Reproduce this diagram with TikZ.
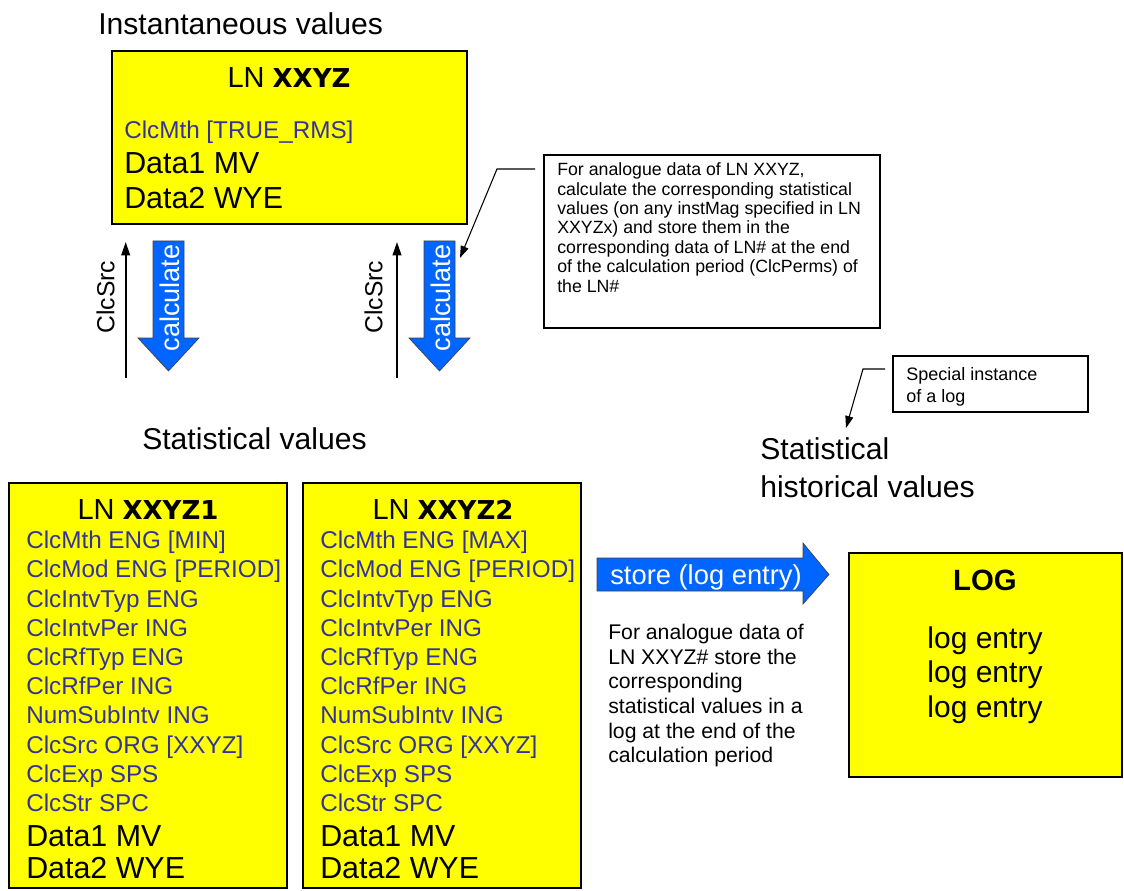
\documentclass[tikz,border=0pt]{standalone}
\usepackage{fontspec}
\setmainfont{Liberation Sans}
\newfontfamily\dvfont{DejaVu Sans}
\usetikzlibrary{arrows.meta,fit}
\definecolor{boxyellow}{RGB}{255,255,0}
\definecolor{attrblue}{RGB}{51,51,153}
\definecolor{arrowblue}{RGB}{0,102,255}
\tikzset{
  ybox/.style={draw=black, line width=1.8pt, fill=boxyellow, inner sep=0pt},
  notebox/.style={draw=black, line width=0.8pt, fill=white, inner sep=0pt},
  blockarrow/.style={fill=arrowblue, draw=black!75, line width=0.5pt},
  attr/.style={anchor=west, inner sep=0pt, text height=13pt, text depth=0pt, text=attrblue, font=\fontsize{18.2}{21}\selectfont},
  dat/.style={anchor=west, inner sep=0pt, text height=16.3pt, text depth=0pt, font=\fontsize{22.8}{26}\selectfont},
  heading/.style={anchor=west, inner sep=0pt, text height=16.2pt, text depth=0pt, font=\fontsize{22.6}{26}\selectfont},
  lntitle/.style={inner sep=0pt, text height=15.3pt, text depth=0pt, font=\fontsize{21.75}{26}\selectfont},
  rottext/.style={rotate=90, inner sep=0pt, text height=14pt, text depth=0pt},
  note/.style={anchor=north west, inner sep=0pt, align=left},
  srcarrow/.style={line width=1.3pt, -{Triangle[length=10pt,width=6.5pt]}},
  callout/.style={line width=0.8pt, -{Triangle[length=9pt,width=6pt]}},
}
\begin{document}
\begin{tikzpicture}[x=0.75pt,y=-0.75pt]
\useasboundingbox (0,0) rectangle (1124,891);

% ---------- headings ----------
\node[heading] (hInst) at (98,24) {Instantaneous values};
\node[heading] (hStat) at (142,439) {Statistical values};
\node[heading] (hHist1) at (760,449) {Statistical};
\node[heading] (hHist2) at (760,487) {historical values};

% ---------- instantaneous box ----------
\node[ybox, fit={(112,51) (467,224)}] (inst) {};
\node[lntitle] (instT) at (289,77) {LN {\dvfont\bfseries\fontsize{19.5}{24}\selectfont XXYZ}};
\node[attr] (instA) at (124,129.5) {ClcMth [TRUE\_RMS]};
\node[dat] (instD1) at (124,162.5) {Data1 MV};
\node[dat] (instD2) at (124,198) {Data2 WYE};

% ---------- calculate arrows ----------
\foreach \n/\xl/\xr/\hl/\hr/\tx in {1/153/184/138/199/168.5, 2/424/455/409/470/439.5}{
  \draw[blockarrow] (\xl,241) -- (\xr,241) -- (\xr,338) -- (\hr,338) -- (\tx,371) -- (\hl,338) -- (\xl,338) -- cycle;
}
\node[rottext, text=white, font=\fontsize{20.3}{24}\selectfont] (calc1) at (170.5,298) {calculate};
\node[rottext, text=white, font=\fontsize{20.3}{24}\selectfont] (calc2) at (441.5,298) {calculate};

% ---------- ClcSrc arrows ----------
\coordinate (s1a) at (125.7,378);
\coordinate (s1b) at (125.7,242);
\coordinate (s2a) at (397,378);
\coordinate (s2b) at (397,242);
\draw[srcarrow] (s1a) -- (s1b);
\draw[srcarrow] (s2a) -- (s2b);
\node[rottext, font=\fontsize{18.5}{22}\selectfont] (src1) at (105,297) {ClcSrc};
\node[rottext, font=\fontsize{18.5}{22}\selectfont] (src2) at (373,297) {ClcSrc};

% ---------- callout 1 ----------
\node[notebox, fit={(544,155) (880,328)}] (note1) {};
\node[note, font=\fontsize{13.3}{14.55}\selectfont] (note1t) at (557,162.5) {For analogue data of LN XXYZ,\\calculate the corresponding statistical\\values (on any instMag specified in LN\\XXYZx) and store them in the\\corresponding data of LN\# at the end\\of the calculation period (ClcPerms) of\\the LN\#};
\coordinate (c1a) at (535,169);
\coordinate (c1b) at (497,169);
\coordinate (c1tip) at (460,258);
\draw[callout] (c1a) -- (c1b) -- (c1tip);

% ---------- callout 2 ----------
\node[notebox, fit={(893,356) (1088,412)}] (note2) {};
\node[note, font=\fontsize{13.5}{16.5}\selectfont] (note2t) at (906,367.3) {Special instance\\of a log};
\coordinate (c2a) at (885,369);
\coordinate (c2b) at (863,369);
\coordinate (c2tip) at (846,428);
\draw[callout] (c2a) -- (c2b) -- (c2tip);

% ---------- statistical boxes ----------
\node[ybox, fit={(9,483) (287,888)}] (stat1) {};
\node[ybox, fit={(303,483) (581,888)}] (stat2) {};
\node[lntitle] (stat1T) at (148,509) {LN {\dvfont\bfseries\fontsize{19.5}{24}\selectfont XXYZ1}};
\node[lntitle] (stat2T) at (443,509) {LN {\dvfont\bfseries\fontsize{19.5}{24}\selectfont XXYZ2}};
\foreach \bx/\mth in {26/MIN, 320/MAX}{
  \node[attr] at (\bx,540) {ClcMth ENG [\mth]};
  \node[attr] at (\bx,569.2) {ClcMod ENG [PERIOD]};
  \node[attr] at (\bx,598.4) {ClcIntvTyp ENG};
  \node[attr] at (\bx,627.6) {ClcIntvPer ING};
  \node[attr] at (\bx,656.8) {ClcRfTyp ENG};
  \node[attr] at (\bx,686) {ClcRfPer ING};
  \node[attr] at (\bx,715.2) {NumSubIntv ING};
  \node[attr] at (\bx,744.4) {ClcSrc ORG [XXYZ]};
  \node[attr] at (\bx,773.6) {ClcExp SPS};
  \node[attr] at (\bx,802.8) {ClcStr SPC};
  \node[dat] at (\bx,836) {Data1 MV};
  \node[dat] at (\bx,867.5) {Data2 WYE};
}

% ---------- store arrow ----------
\draw[blockarrow] (597,558) -- (803,558) -- (803,543) -- (829,574.5) -- (803,604) -- (803,591) -- (597,591) -- cycle;
\node[inner sep=0pt, text=white, text height=14.7pt, text depth=0pt, font=\fontsize{20.5}{24}\selectfont] (storeT) at (706,575) {store (log entry)};
\node[note, font=\fontsize{15.9}{18.45}\selectfont] (storeN) at (608,624) {For analogue data of\\LN XXYZ\# store the\\corresponding\\statistical values in a\\log at the end of the\\calculation period};

% ---------- LOG box ----------
\node[ybox, fit={(849,553) (1122,777)}] (log) {};
\node[inner sep=0pt, text height=15.8pt, text depth=0pt, font=\bfseries\fontsize{22}{26}\selectfont] (logT) at (985,580) {LOG};
\node[inner sep=0pt, align=center, font=\fontsize{22.5}{25.9}\selectfont, anchor=north] (logE) at (985,626) {log entry\\log entry\\log entry};
\end{tikzpicture}
\end{document}
